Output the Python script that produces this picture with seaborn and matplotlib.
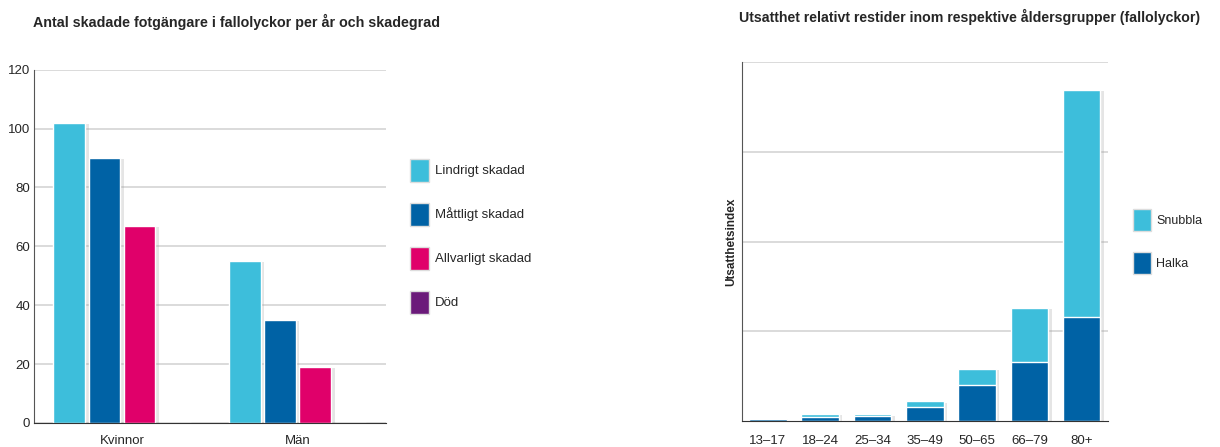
import matplotlib
matplotlib.use("Agg")
import matplotlib.pyplot as plt
import matplotlib.patheffects as pe
from matplotlib.patches import Patch
import pandas as pd
import seaborn as sns

# Left chart data
genders = ['Kvinnor', 'Män']
severities = ['Lindrigt skadad', 'Måttligt skadad', 'Allvarligt skadad', 'Död']
kvinnor = [102, 90, 67, 0]
man = [55, 35, 19, 0]
sev_colors = ['#3DBEDB', '#0062A5', '#E0006A', '#6B1A7A']

# Right chart data
age_groups = ['13–17', '18–24', '25–34', '35–49', '50–65', '66–79', '80+']
halka = [0.02, 0.05, 0.06, 0.16, 0.40, 0.66, 1.16]
snubbla = [0.0, 0.03, 0.015, 0.06, 0.18, 0.60, 2.53]

sns.set_style('white')
plt.rcParams['font.family'] = ['Liberation Sans', 'DejaVu Sans']

df_left = pd.DataFrame({
    'kon': [g for g in genders for _ in severities],
    'grad': severities * 2,
    'antal': kvinnor + man,
})
df_right = pd.DataFrame({
    'alder': age_groups,
    'halka': halka,
    'total': [h + s for h, s in zip(halka, snubbla)],
})

fig = plt.figure(figsize=(12.2, 4.47), dpi=100)
ax1 = fig.add_axes([0.028, 0.054, 0.288, 0.79])
ax2 = fig.add_axes([0.608, 0.058, 0.300, 0.803])

shadow = [pe.SimplePatchShadow(offset=(2.5, -1), shadow_rgbFace='#999999', alpha=0.25), pe.Normal()]

# --- left: grouped bars
sns.barplot(data=df_left, x='kon', y='antal', hue='grad', order=genders,
            hue_order=severities, palette=sev_colors, width=0.8, gap=0.1,
            saturation=1, ax=ax1, legend=False)
for p in ax1.patches:
    p.set_path_effects(shadow)
ax1.set_ylim(0, 120)
ax1.set_xlim(-0.5, 1.5)
ax1.set_yticks(range(0, 121, 20))
ax1.yaxis.grid(True, color='#D4D4D4', linewidth=1.2)
ax1.set_axisbelow(True)
ax1.set_xlabel('')
ax1.set_ylabel('')
for s in ['top', 'right']:
    ax1.spines[s].set_visible(False)
ax1.spines['left'].set_color('#555555')
ax1.spines['bottom'].set_color('#333333')
ax1.tick_params(axis='x', length=0, pad=9, labelsize=9.5)
ax1.tick_params(axis='y', length=0, pad=3, labelsize=9.5)
ax1.set_xticks([0.5, 1.5], minor=True)
ax1.tick_params(axis='x', which='minor', direction='in', length=5, color='#555555')
fig.text(0.027, 0.951, 'Antal skadade fotgängare i fallolyckor per år och skadegrad',
         fontsize=10.3, fontweight='bold', ha='left', va='center')
handles1 = [Patch(facecolor=c, edgecolor='#dddddd', label=l) for c, l in zip(sev_colors, severities)]
fig.legend(handles=handles1, loc='upper left', bbox_to_anchor=(0.3317, 0.657),
           frameon=False, fontsize=9.5, handlelength=1.45, handleheight=2.3,
           handletextpad=0.45, labelspacing=1.6, borderaxespad=0)

# --- right: stacked bars
sns.barplot(data=df_right, x='alder', y='total', order=age_groups, color='#3DBEDB',
            saturation=1, width=0.72, ax=ax2)
sns.barplot(data=df_right, x='alder', y='halka', order=age_groups, color='#0062A5',
            saturation=1, width=0.72, ax=ax2)
n = len(age_groups)
for p in ax2.patches[:n]:
    p.set_path_effects(shadow)
ax2.set_ylim(0, 4)
ax2.set_xlim(-0.5, n - 0.5)
ax2.set_yticks([1, 2, 3, 4])
ax2.set_yticklabels([])
ax2.yaxis.grid(True, color='#D4D4D4', linewidth=1.2)
ax2.set_axisbelow(True)
ax2.set_xlabel('')
ax2.set_ylabel('Utsatthetsindex', fontsize=8.5, fontweight='bold', labelpad=0)
for s in ['top', 'right']:
    ax2.spines[s].set_visible(False)
ax2.spines['left'].set_color('#555555')
ax2.spines['bottom'].set_color('#333333')
ax2.tick_params(axis='x', length=0, pad=10, labelsize=9.5)
ax2.tick_params(axis='y', length=0)
ax2.set_xticks([i + 0.5 for i in range(n)], minor=True)
ax2.tick_params(axis='x', which='minor', direction='in', length=5, color='#555555')
fig.text(0.606, 0.962, 'Utsatthet relativt restider inom respektive åldersgrupper (fallolyckor)',
         fontsize=10.2, fontweight='bold', ha='left', va='center')
handles2 = [Patch(facecolor='#3DBEDB', edgecolor='#dddddd', label='Snubbla'),
            Patch(facecolor='#0062A5', edgecolor='#dddddd', label='Halka')]
fig.legend(handles=handles2, loc='upper left', bbox_to_anchor=(0.9247, 0.544),
           frameon=False, fontsize=9, handlelength=1.4, handleheight=2.3,
           handletextpad=0.45, labelspacing=1.75, borderaxespad=0)

fig.savefig('out.png', dpi=100)
